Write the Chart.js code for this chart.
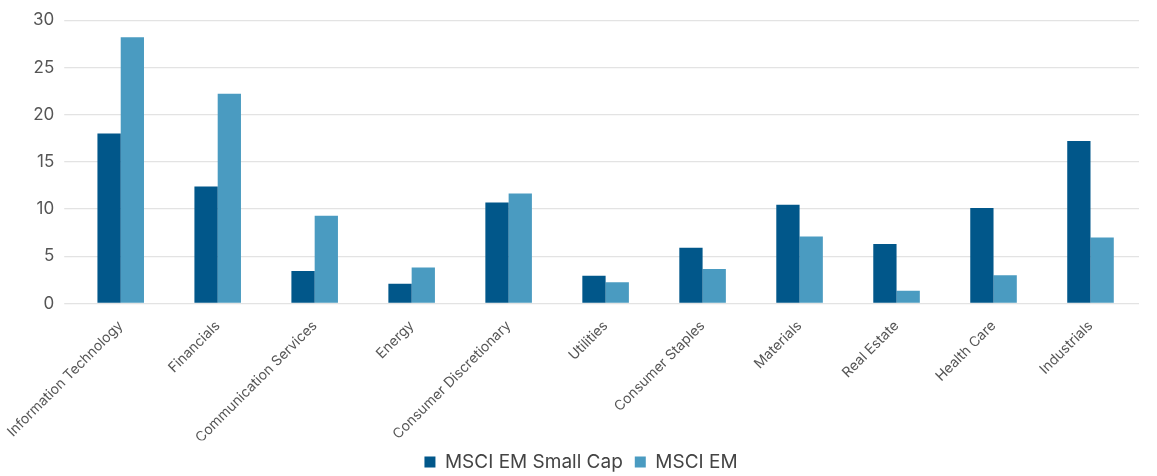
<!DOCTYPE html>
<html>
<head>
<meta charset="utf-8">
<script src="https://cdn.jsdelivr.net/npm/chart.js@4/dist/chart.umd.min.js"></script>
<style>
html,body{margin:0;padding:0;background:#fff;}
#wrap{width:1157px;height:476px;position:relative;}
</style>
</head>
<body>
<div id="wrap"><canvas id="c"></canvas></div>
<script>
const categories = ["Information Technology","Financials","Communication Services","Energy","Consumer Discretionary","Utilities","Consumer Staples","Materials","Real Estate","Health Care","Industrials"];
const smallCap = [18.0, 12.4, 3.45, 2.1, 10.7, 2.95, 5.9, 10.45, 6.3, 10.1, 17.2];
const msciEM = [28.2, 22.2, 9.3, 3.8, 11.65, 2.25, 3.65, 7.1, 1.35, 3.0, 7.0];
const seriesNames = ["MSCI EM Small Cap", "MSCI EM"];
const yTicks = [0, 5, 10, 15, 20, 25, 30];

Chart.defaults.font.family = "Inter, 'Noto Sans', sans-serif";
new Chart(document.getElementById('c'), {
  type: 'bar',
  data: {
    labels: categories,
    datasets: [
      {label: seriesNames[0], data: smallCap, backgroundColor: '#01578A'},
      {label: seriesNames[1], data: msciEM, backgroundColor: '#4A9BC1'}
    ]
  },
  options: {
    responsive: true,
    maintainAspectRatio: false,
    animation: false,
    datasets: {bar: {categoryPercentage: 0.48, barPercentage: 1.0}},
    layout: {padding: {left: 23, right: 18, top: 18, bottom: -5.5}},
    plugins: {
      legend: {
        position: 'bottom',
        labels: {boxWidth: 11, boxHeight: 11, color: '#444', font: {size: 19}, padding: 12}
      },
      tooltip: {enabled: false}
    },
    scales: {
      x: {
        grid: {display: false},
        border: {display: false},
        ticks: {color: '#555', font: {size: 14}, maxRotation: 45, minRotation: 45, padding: 6},
        afterFit: (s) => { s.height = 137; }
      },
      y: {
        min: 0, max: 30,
        afterBuildTicks: (s) => { s.ticks = yTicks.map(v => ({value: v})); },
        grid: {color: '#e3e3e3', lineWidth: 1.3},
        border: {display: false},
        ticks: {color: '#555', font: {size: 17}, padding: 10}
      }
    }
  }
});
</script>
</body>
</html>
